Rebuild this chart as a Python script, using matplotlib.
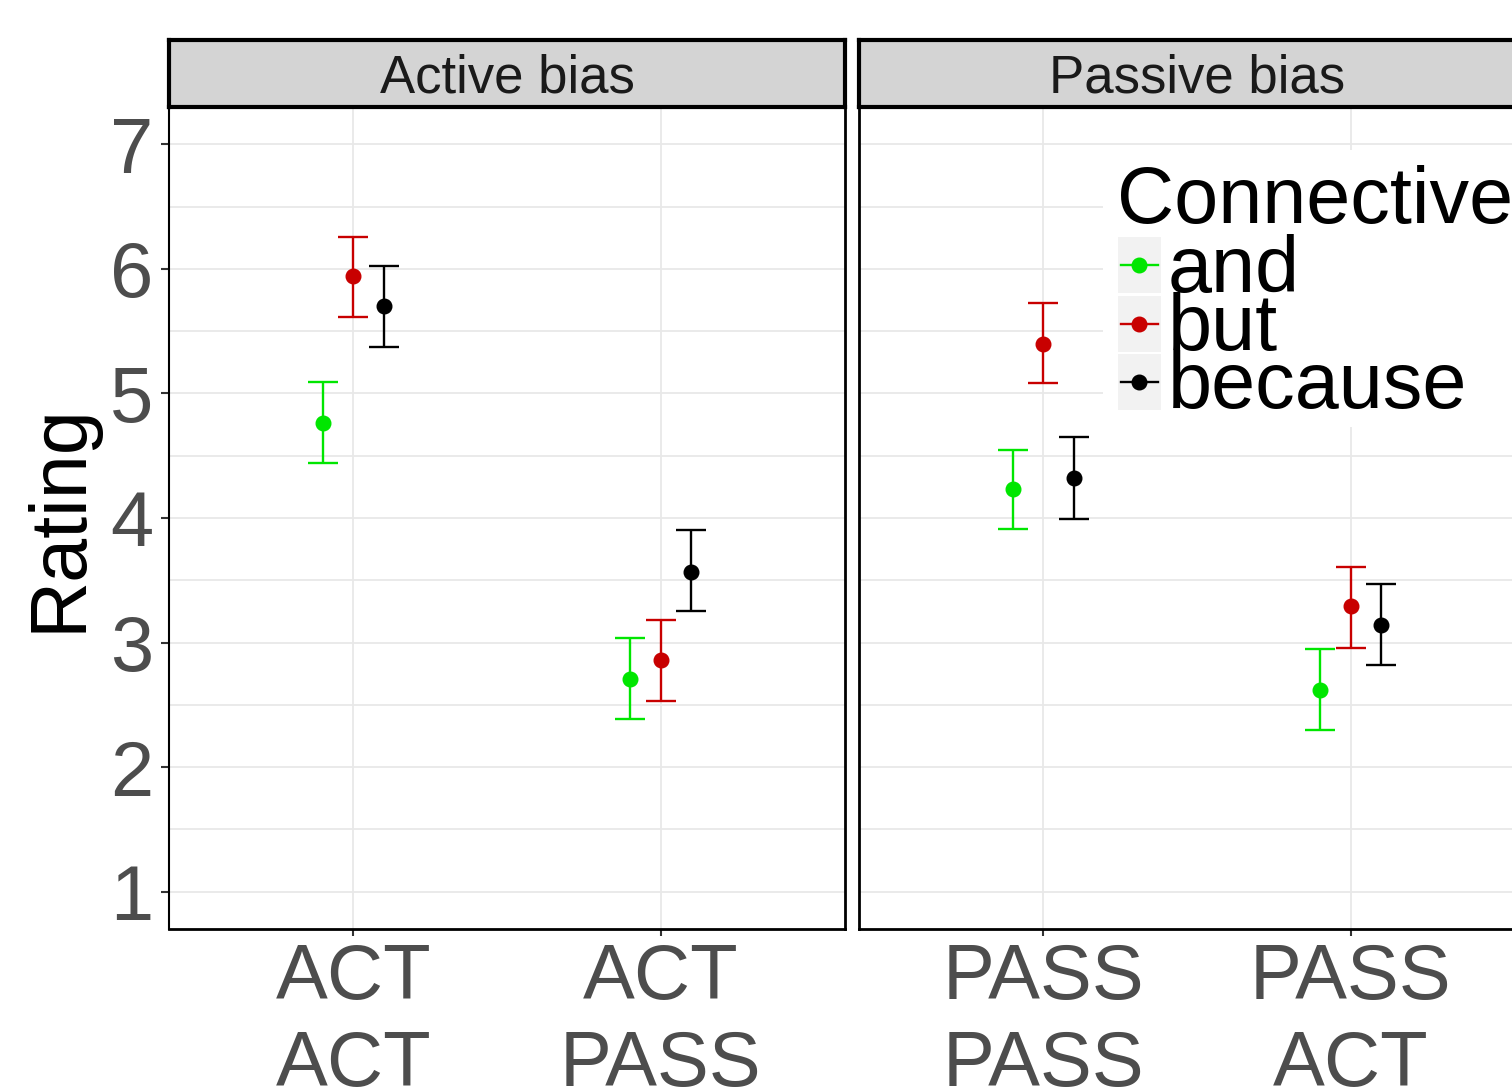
import matplotlib
matplotlib.use('Agg')
import matplotlib.pyplot as plt
from matplotlib.ticker import MultipleLocator
import numpy as np

plt.rcParams['font.family'] = ['Liberation Sans', 'DejaVu Sans']

# panels and x categories
biases = ['Active bias', 'Passive bias']
active_cats = ['ACT\nACT', 'ACT\nPASS']
passive_cats = ['PASS\nPASS', 'PASS\nACT']
connectives = ['and', 'but', 'because']
colors = ['#00E600', '#C80000', '#000000']

# means and CI bounds: [ACT ACT, ACT PASS] (active), [PASS PASS, PASS ACT] (passive)
and_mean = [4.76, 2.71, 4.23, 2.62]
and_lo = [4.44, 2.39, 3.91, 2.30]
and_hi = [5.09, 3.04, 4.55, 2.95]
but_mean = [5.94, 2.86, 5.40, 3.29]
but_lo = [5.61, 2.53, 5.08, 2.96]
but_hi = [6.26, 3.18, 5.73, 3.61]
because_mean = [5.70, 3.57, 4.32, 3.14]
because_lo = [5.37, 3.25, 3.99, 2.82]
because_hi = [6.02, 3.90, 4.65, 3.47]

means = [and_mean, but_mean, because_mean]
los = [and_lo, but_lo, because_lo]
his = [and_hi, but_hi, because_hi]
dodge = [-0.1, 0.0, 0.1]

W, H = 1512, 1087


def box(x0, y0, x1, y1):
    return [x0 / W, 1 - y1 / H, (x1 - x0) / W, (y1 - y0) / H]


fig = plt.figure(figsize=(W / 100, H / 100), dpi=100)
fig.patch.set_facecolor('white')

ax_l = fig.add_axes(box(169, 107, 845, 929))
ax_r = fig.add_axes(box(859, 107, 1535, 929))
panels = [(ax_l, active_cats, slice(0, 2)), (ax_r, passive_cats, slice(2, 4))]

for k, (ax, cats, sl) in enumerate(panels):
    xs = np.arange(1, len(cats) + 1)
    for i in range(len(connectives)):
        m = np.array(means[i][sl])
        lo = np.array(los[i][sl])
        hi = np.array(his[i][sl])
        ax.errorbar(xs + dodge[i], m, yerr=[m - lo, hi - m], fmt='o', color=colors[i],
                    ms=10.5, elinewidth=1.7, capsize=10.8, capthick=1.7, zorder=3)
    ax.set_xlim(0.4, 2.6)
    ax.set_ylim(0.7, 7.3)
    ax.set_xticks(xs)
    ax.set_xticklabels(cats, fontsize=56, color='#4D4D4D', linespacing=1.25)
    ax.yaxis.set_major_locator(MultipleLocator(1))
    ax.yaxis.set_minor_locator(MultipleLocator(0.5))
    ax.grid(True, which='major', color='#E8E8E8', lw=1.3, zorder=0)
    ax.grid(True, which='minor', axis='y', color='#E8E8E8', lw=1.3, zorder=0)
    ax.set_axisbelow(True)
    ax.tick_params(axis='x', length=5, width=1.5, color='#333333', pad=4)
    ax.tick_params(axis='y', which='minor', length=0)
    for sp in ax.spines.values():
        sp.set_linewidth(2)
        sp.set_color('black')
    if k == 0:
        ax.set_yticks(range(1, 8))
        ax.tick_params(axis='y', which='major', length=6, width=1.5, color='#333333',
                       labelsize=56, labelcolor='#4D4D4D', pad=5)
        ax.spines['left'].set_linewidth(1.5)
    else:
        ax.tick_params(axis='y', which='major', length=0, labelleft=False)

    # facet strip
    x0 = 169 if k == 0 else 859
    st = fig.add_axes(box(x0, 40, x0 + 676, 107))
    st.set_facecolor('#D4D4D4')
    st.set_xticks([])
    st.set_yticks([])
    for sp in st.spines.values():
        sp.set_linewidth(3)
        sp.set_color('black')
    st.text(0.5, 0.21, biases[k], ha='center', va='baseline', fontsize=38, color='#1A1A1A',
            transform=st.transAxes)

fig.text(60 / W, 1 - 518 / H, 'Rating', rotation=90, ha='center', va='center', fontsize=57,
         color='black')

# legend drawn by hand in a pixel-coordinate box
lg = fig.add_axes(box(1103, 150, 1512, 427))
lg.set_xlim(1103, 1512)
lg.set_ylim(427, 150)
lg.set_facecolor('white')
lg.axis('off')
lg.add_patch(plt.Rectangle((1103, 150), 409, 277, facecolor='white', edgecolor='none', zorder=0))
lg.text(1117, 223, 'Connective', fontsize=57, va='baseline', ha='left', color='black')
row_top = [237, 296, 354]
row_base = [292, 350, 408]
for i, name in enumerate(connectives):
    lg.add_patch(plt.Rectangle((1118, row_top[i]), 43, 56, facecolor='#F2F2F2', edgecolor='none'))
    yc = row_top[i] + 28
    lg.plot([1121, 1158], [yc, yc], color=colors[i], lw=1.7)
    lg.plot([1139], [yc], 'o', color=colors[i], ms=10.5)
    lg.text(1168, row_base[i], name, fontsize=57, va='baseline', ha='left', color='black')

fig.savefig('out.png', dpi=100)
